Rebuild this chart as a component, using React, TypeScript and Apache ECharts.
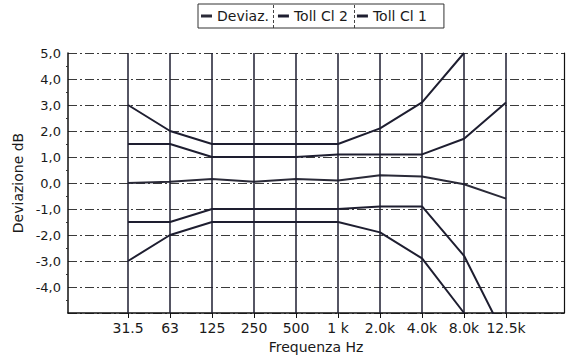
import React, { useEffect, useRef } from "react";
import * as echarts from "echarts";

// Third-octave band centres shown on the frequency axis
const freqLabels = ["31.5", "63", "125", "250", "500", "1 k", "2.0k", "4.0k", "8.0k", "12.5k"];

// Measured deviation (dB)
const deviation = [0.0, 0.05, 0.15, 0.05, 0.15, 0.1, 0.3, 0.25, -0.05, -0.6];

// Class 2 tolerance limits (dB)
const cl2Upper = [3.0, 2.0, 1.5, 1.5, 1.5, 1.5, 2.1, 3.1, 5.0, null];
const cl2Lower = [-3.0, -2.0, -1.5, -1.5, -1.5, -1.5, -1.9, -2.9, -5.0, null];

// Class 1 tolerance limits (dB)
const cl1Upper = [1.5, 1.5, 1.0, 1.0, 1.0, 1.1, 1.1, 1.1, 1.7, 3.1];
const cl1Lower = [-1.5, -1.5, -1.0, -1.0, -1.0, -1.0, -0.9, -0.9, -2.8, -6.0];

const FONT = "DejaVu Sans, Verdana, sans-serif";
const INK = "#1e1e30";
const TEXT = "#1a1a1a";

const toPairs = (arr: (number | null)[]) => arr.map((v, i) => [i, v]);

export default function App() {
  const ref = useRef<HTMLDivElement>(null);

  useEffect(() => {
    document.body.style.margin = "0";
    if (!ref.current) return;
    const chart = echarts.init(ref.current, null, { renderer: "svg" });
    const idx = freqLabels.map((_, i) => i);

    const lineSeries = (name: string, data: (number | null)[], color: string) => ({
      name,
      type: "line",
      data: toPairs(data),
      symbol: "none",
      connectNulls: false,
      clip: true,
      z: 3,
      lineStyle: { color, width: 2 },
      itemStyle: { color },
    });

    // dashed dividers between the legend entries
    const divider = (x: number) => ({
      type: "line",
      shape: { x1: x, y1: 5, x2: x, y2: 29 },
      style: { stroke: "#444", lineWidth: 1, lineDash: [3, 2] },
      silent: true,
    });

    chart.setOption({
      animation: false,
      backgroundColor: "#ffffff",
      textStyle: { fontFamily: FONT },
      legend: {
        left: 198,
        top: 4,
        data: ["Deviaz.", "Toll Cl 2", "Toll Cl 1"],
        icon: "rect",
        itemWidth: 11,
        itemHeight: 3,
        itemGap: 9,
        padding: [5, 17, 5, 3],
        borderColor: "#333",
        borderWidth: 1,
        textStyle: { fontFamily: FONT, fontSize: 14, color: TEXT },
      },
      graphic: [divider(273.5), divider(354.5)],
      grid: { left: 68, right: 17, top: 53, bottom: 48, containLabel: false },
      xAxis: {
        type: "value",
        min: -1.43,
        max: 10.38,
        name: "Frequenza Hz",
        nameLocation: "middle",
        nameGap: 27,
        nameTextStyle: { fontFamily: FONT, fontSize: 14, color: TEXT },
        axisLine: { show: true, onZero: false, lineStyle: { color: "#111", width: 1.5 } },
        axisTick: {
          show: true,
          customValues: idx,
          length: 5,
          lineStyle: { color: "#111", width: 1 },
        },
        axisLabel: {
          customValues: idx,
          formatter: (v: number) => freqLabels[Math.round(v)] ?? "",
          fontFamily: FONT,
          fontSize: 14,
          color: TEXT,
          margin: 8,
        },
        splitLine: { show: false },
      },
      yAxis: [
        {
          type: "value",
          min: -5,
          max: 5,
          interval: 1,
          name: "Deviazione dB",
          nameLocation: "middle",
          nameGap: 40,
          nameTextStyle: { fontFamily: FONT, fontSize: 14, color: TEXT },
          axisLine: { show: true, onZero: false, lineStyle: { color: "#111", width: 1.5 } },
          axisTick: { show: false },
          minorTick: { show: true, splitNumber: 2, length: 2, lineStyle: { color: "#333" } },
          axisLabel: {
            fontFamily: FONT,
            fontSize: 13,
            color: TEXT,
            margin: 7,
            formatter: (v: number) => (v <= -5 ? "" : v.toFixed(1).replace(".", ",")),
          },
          splitLine: {
            show: true,
            lineStyle: { color: "#3a3a3a", width: 1, type: [9, 3, 2, 3] },
          },
        },
        {
          type: "value",
          position: "right",
          min: -5,
          max: 5,
          axisLine: { show: true, onZero: false, lineStyle: { color: "#111", width: 1.2 } },
          axisTick: { show: false },
          axisLabel: { show: false },
          splitLine: { show: false },
        },
      ],
      series: [
        {
          name: "grid-verticals",
          type: "line",
          data: [],
          silent: true,
          z: 1,
          markLine: {
            silent: true,
            symbol: ["none", "none"],
            label: { show: false },
            lineStyle: { color: INK, width: 1.5, type: "solid" },
            data: idx.map((i) => ({ xAxis: i })),
          },
        },
        lineSeries("Deviaz.", deviation, "#2a2a38"),
        lineSeries("Toll Cl 2", cl2Upper, INK),
        lineSeries("Toll Cl 2", cl2Lower, INK),
        lineSeries("Toll Cl 1", cl1Upper, INK),
        lineSeries("Toll Cl 1", cl1Lower, INK),
      ],
    });

    return () => chart.dispose();
  }, []);

  return <div ref={ref} style={{ width: 581, height: 361 }} />;
}
